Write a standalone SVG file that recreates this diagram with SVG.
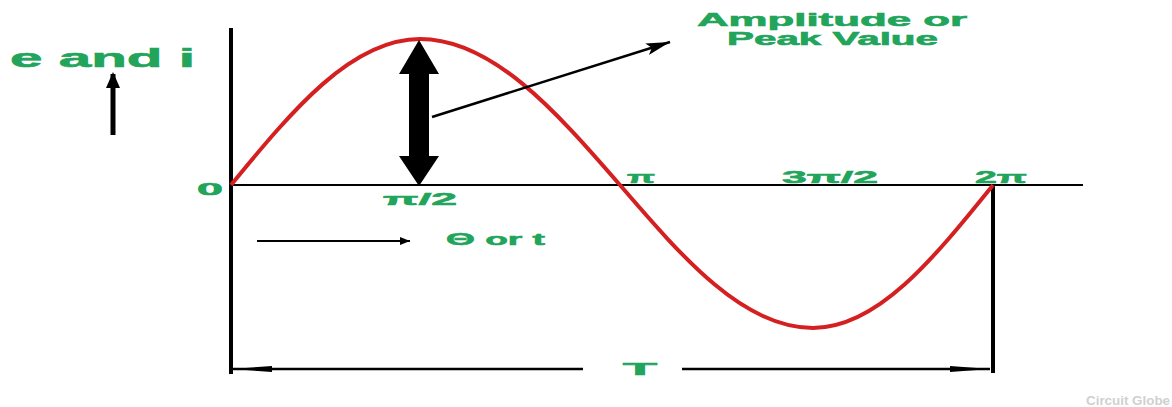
<svg xmlns="http://www.w3.org/2000/svg" width="1172" height="407" viewBox="0 0 1172 407">
<defs>
<style>
.lbl{font-family:"Liberation Sans",Arial,sans-serif;font-weight:bold;fill:#22a55b;stroke:#22a55b;stroke-width:0.6;}
.ln{stroke:#000;fill:none;}
</style>
<marker id="ah" markerWidth="10" markerHeight="8" refX="10" refY="4" orient="auto" markerUnits="userSpaceOnUse">
<path d="M0,0 L10,4 L0,8 Z" fill="#000"/>
</marker>
<marker id="ahUp" markerWidth="16" markerHeight="14" refX="14" refY="7" orient="auto" markerUnits="userSpaceOnUse">
<path d="M0,0 L16,7 L0,14 Z" fill="#000"/>
</marker>
<marker id="ahLong" markerWidth="40" markerHeight="9" refX="40" refY="4.5" orient="auto" markerUnits="userSpaceOnUse">
<path d="M0,1.5 L40,4.5 L0,7.5 Z" fill="#000"/>
</marker>
<marker id="ahBig" markerWidth="24" markerHeight="12" refX="24" refY="6" orient="auto" markerUnits="userSpaceOnUse">
<path d="M0,0 L24,6 L0,12 L5,6 Z" fill="#000"/>
</marker>
</defs>
<rect width="1172" height="407" fill="#fff"/>

<g id="axes">
<line class="ln" x1="231" y1="28" x2="231" y2="374" stroke-width="4"/>
<line class="ln" x1="231" y1="185" x2="1083" y2="185" stroke-width="2"/>
<line class="ln" x1="993" y1="185" x2="993" y2="373" stroke-width="4"/>
</g>

<g id="sine">
<path d="M231,185 C292.6,110 351.6,39 420,39 C492,39 555,110 620,185 C683,258 743,328 813,328 C878,328 934,258 993,185" fill="none" stroke="#d42020" stroke-width="4"/>
</g>

<g id="amplitude-arrow">
<polygon points="419,40 439,74 429,74 429,156 439,156 419,186 399,156 409,156 409,74 399,74" fill="#000"/>
</g>

<g id="connectors">
<line class="ln" x1="432" y1="117" x2="670" y2="42" stroke-width="2.5" marker-end="url(#ahBig)"/>
<line class="ln" x1="113" y1="135" x2="113" y2="74" stroke-width="5" marker-end="url(#ahUp)"/>
<line class="ln" x1="257" y1="241" x2="410" y2="241" stroke-width="2" marker-end="url(#ah)"/>
<line class="ln" x1="583" y1="369" x2="232" y2="369" stroke-width="2.5" marker-end="url(#ahLong)"/>
<line class="ln" x1="682" y1="369" x2="990" y2="369" stroke-width="2.5" marker-end="url(#ahLong)"/>
</g>

<g id="labels">
<text class="lbl" x="10" y="67" font-size="26" textLength="185" lengthAdjust="spacingAndGlyphs">e and i</text>
<text class="lbl" x="697" y="26" font-size="18" textLength="270" lengthAdjust="spacingAndGlyphs">Amplitude or</text>
<text class="lbl" x="727" y="45" font-size="18" textLength="211" lengthAdjust="spacingAndGlyphs">Peak Value</text>
<text class="lbl" x="197" y="195" font-size="17" textLength="26" lengthAdjust="spacingAndGlyphs">0</text>
<text class="lbl" x="383" y="205" font-size="17" textLength="74" lengthAdjust="spacingAndGlyphs">π/2</text>
<text class="lbl" x="627" y="183" font-size="17" textLength="28" lengthAdjust="spacingAndGlyphs">π</text>
<text class="lbl" x="782" y="183" font-size="17" textLength="96" lengthAdjust="spacingAndGlyphs">3π/2</text>
<text class="lbl" x="975" y="183" font-size="17" textLength="52" lengthAdjust="spacingAndGlyphs">2π</text>
<text class="lbl" x="446" y="245" font-size="17" textLength="99" lengthAdjust="spacingAndGlyphs">Θ or t</text>
<text class="lbl" x="623" y="375" font-size="17" textLength="34" lengthAdjust="spacingAndGlyphs">T</text>
<text x="1086" y="405" font-family="Liberation Sans,Arial,sans-serif" font-weight="bold" font-size="12" fill="#d0d0d0" textLength="84" lengthAdjust="spacingAndGlyphs">Circuit Globe</text>
</g>
</svg>
